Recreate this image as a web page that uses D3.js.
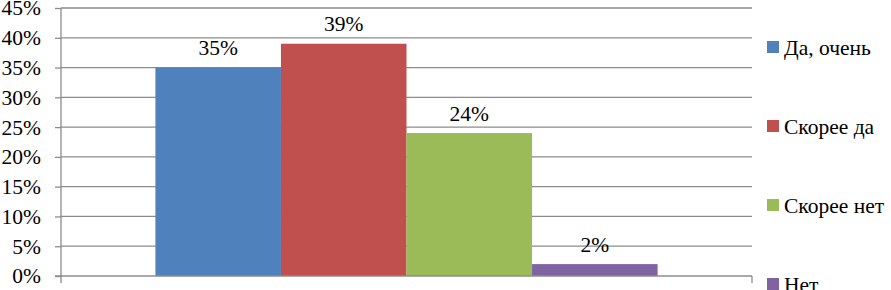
<!DOCTYPE html>
<html>
<head>
<meta charset="utf-8">
<script src="https://cdn.jsdelivr.net/npm/d3@7"></script>
</head>
<body style="margin:0">
<script>
// answers and their shares
var answers = ["Да, очень", "Скорее да", "Скорее нет", "Нет"];
var shares = [35, 39, 24, 2];
var colors = ["#4f81bd", "#c0504d", "#9bbb59", "#8064a2"];
var yTicks = [0, 5, 10, 15, 20, 25, 30, 35, 40, 45];

var width = 891, height = 290;
var plotLeft = 61, plotRight = 752, plotTop = 8, plotBottom = 276;

var svg = d3.select("body").append("svg")
  .attr("width", width)
  .attr("height", height)
  .style("font-family", "'Liberation Serif'")
  .style("font-size", "21.5px");

var y = d3.scaleLinear().domain([0, 45]).range([plotBottom, plotTop]);

// one category, bars side by side in the middle
var group = d3.scaleBand().domain(["all"]).range([plotLeft, plotRight]).paddingInner(0).paddingOuter(0.188);
var x = d3.scaleBand().domain(answers).range([group("all"), group("all") + group.bandwidth()]);

// grid
svg.append("g")
  .selectAll("line")
  .data(yTicks.filter(function(d) { return d > 0; }))
  .enter().append("line")
  .attr("x1", plotLeft).attr("x2", plotRight)
  .attr("y1", function(d) { return y(d); })
  .attr("y2", function(d) { return y(d); })
  .attr("stroke", "#8c8c8c")
  .attr("stroke-width", 1.3);

// y axis
var yAxis = svg.append("g")
  .attr("transform", "translate(" + plotLeft + ",0)")
  .call(d3.axisLeft(y).tickValues(yTicks).tickSize(6).tickPadding(14)
    .tickFormat(function(d) { return d + "%"; }));
yAxis.attr("font-family", null).attr("font-size", null);
yAxis.select(".domain").attr("stroke", "#8c8c8c").attr("stroke-width", 1.3)
  .attr("d", "M0," + (plotBottom + 7) + "V" + plotTop);
yAxis.selectAll(".tick line").attr("stroke", "#8c8c8c").attr("stroke-width", 1.3);
yAxis.selectAll(".tick text").attr("fill", "#000");

// bars
svg.append("g")
  .selectAll("rect")
  .data(shares)
  .enter().append("rect")
  .attr("x", function(d, i) { return x(answers[i]); })
  .attr("y", function(d) { return y(d); })
  .attr("width", x.bandwidth())
  .attr("height", function(d) { return plotBottom - y(d); })
  .attr("fill", function(d, i) { return colors[i]; });

// x axis line
svg.append("line")
  .attr("x1", plotLeft - 6).attr("x2", plotRight)
  .attr("y1", plotBottom).attr("y2", plotBottom)
  .attr("stroke", "#8c8c8c").attr("stroke-width", 1.3);
svg.append("line")
  .attr("x1", plotRight).attr("x2", plotRight)
  .attr("y1", plotBottom).attr("y2", plotBottom + 7)
  .attr("stroke", "#8c8c8c").attr("stroke-width", 1.3);

// value labels
svg.append("g")
  .selectAll("text")
  .data(shares)
  .enter().append("text")
  .attr("x", function(d, i) { return x(answers[i]) + x.bandwidth() / 2; })
  .attr("y", function(d) { return y(d) - 12.5; })
  .attr("text-anchor", "middle")
  .text(function(d) { return d + "%"; });

// legend
var legend = svg.append("g")
  .selectAll("g")
  .data(answers)
  .enter().append("g")
  .attr("transform", function(d, i) { return "translate(767," + (47 + i * 79) + ")"; });

legend.append("rect")
  .attr("x", 0).attr("y", -6)
  .attr("width", 12).attr("height", 12)
  .attr("fill", function(d, i) { return colors[i]; });

legend.append("text")
  .attr("x", 17).attr("y", 7.5)
  .text(function(d) { return d; });
</script>
</body>
</html>
